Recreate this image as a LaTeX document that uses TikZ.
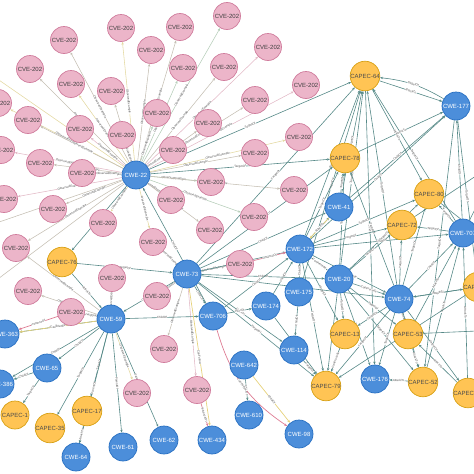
\documentclass[tikz,border=0pt]{standalone}
\usepackage{fontspec}
\setmainfont{Liberation Sans}
\usetikzlibrary{arrows.meta,backgrounds}
\definecolor{cvefill}{HTML}{ECB5C9}
\definecolor{cvedraw}{HTML}{D07D9D}
\definecolor{cwefill}{HTML}{4C8EDA}
\definecolor{cwedraw}{HTML}{2870C2}
\definecolor{capecfill}{HTML}{FFC454}
\definecolor{capecdraw}{HTML}{D7A013}
\definecolor{relcol}{HTML}{568987}
\definecolor{obscol}{HTML}{C4BEB2}
\definecolor{obsycol}{HTML}{E3D8A0}
\definecolor{obsgcol}{HTML}{B5CDB8}
\definecolor{obspcol}{HTML}{E2B9C6}
\definecolor{warmcol}{HTML}{E6D27C}
\definecolor{rosecol}{HTML}{DE7C94}
\definecolor{labelcol}{HTML}{505050}
\begin{document}
\begin{tikzpicture}[x=1pt,y=-1pt,>={Stealth[length=3pt,width=2.4pt]},
    cve/.style={circle,draw=cvedraw,fill=cvefill,line width=0.7pt,minimum size=27pt,inner sep=0pt,text=black!75,font=\fontsize{6}{6.5}\selectfont},
    cwe/.style={circle,draw=cwedraw,fill=cwefill,line width=0.7pt,minimum size=28pt,inner sep=0pt,text=white,font=\fontsize{6}{6.5}\selectfont},
    capec/.style={circle,draw=capecdraw,fill=capecfill,line width=0.7pt,minimum size=28pt,inner sep=0pt,text=black!70,font=\fontsize{6}{6.5}\selectfont},
    obs/.style={->,draw=obscol,line width=0.55pt},
    obsy/.style={->,draw=obsycol,line width=0.55pt},
    obsg/.style={->,draw=obsgcol,line width=0.55pt},
    obsp/.style={->,draw=obspcol,line width=0.55pt},
    rel/.style={->,draw=relcol,line width=0.6pt},
    warm/.style={->,draw=warmcol,line width=0.7pt},
    rose/.style={->,draw=rosecol,line width=0.7pt},
    elabel/.style={sloped,fill=white,inner sep=0.2pt,text=labelcol,font=\fontsize{3}{3.2}\selectfont}]
        \useasboundingbox (0,0) rectangle (474,474);

        \node[cve] (cve-1) at(64,40){CVE-202};
        \node[cve] (cve-2) at(121,28){CVE-202};
        \node[cve] (cve-3) at(180,27){CVE-202};
        \node[cve] (cve-4) at(227,16){CVE-202};
        \node[cve] (cve-5) at(151,50){CVE-202};
        \node[cve] (cve-6) at(268,47){CVE-202};
        \node[cve] (cve-7) at(30,69){CVE-202};
        \node[cve] (cve-8) at(71,84){CVE-202};
        \node[cve] (cve-9) at(111,91){CVE-202};
        \node[cve] (cve-10) at(183,68){CVE-202};
        \node[cve] (cve-11) at(224,67){CVE-202};
        \node[cve] (cve-12) at(306,85){CVE-202};
        \node[cve] (cve-13) at(255,100){CVE-202};
        \node[cve] (cve-14) at(-2,103){CVE-202};
        \node[cve] (cve-15) at(28,120){CVE-202};
        \node[cve] (cve-16) at(80,129){CVE-202};
        \node[cve] (cve-17) at(122,135){CVE-202};
        \node[cve] (cve-18) at(157,113){CVE-202};
        \node[cve] (cve-19) at(208,123){CVE-202};
        \node[cve] (cve-20) at(299,137){CVE-202};
        \node[cve] (cve-21) at(255,153){CVE-202};
        \node[cve] (cve-22) at(1,150){CVE-202};
        \node[cve] (cve-23) at(40,163){CVE-202};
        \node[cve] (cve-24) at(82,173){CVE-202};
        \node[cve] (cve-25) at(173,150){CVE-202};
        \node[cve] (cve-26) at(211,182){CVE-202};
        \node[cve] (cve-27) at(294,190){CVE-202};
        \node[cve] (cve-28) at(4,199){CVE-202};
        \node[cve] (cve-29) at(53,209){CVE-202};
        \node[cve] (cve-30) at(103,223){CVE-202};
        \node[cve] (cve-31) at(171,200){CVE-202};
        \node[cve] (cve-32) at(254,217){CVE-202};
        \node[cve] (cve-33) at(210,230){CVE-202};
        \node[cve] (cve-34) at(153,242){CVE-202};
        \node[cve] (cve-35) at(16,248){CVE-202};
        \node[cve] (cve-36) at(240,264){CVE-202};
        \node[cve] (cve-37) at(112,278){CVE-202};
        \node[cve] (cve-38) at(28,291){CVE-202};
        \node[cve] (cve-39) at(157,296){CVE-202};
        \node[cve] (cve-40) at(71,312){CVE-202};
        \node[cve] (cve-41) at(164,349){CVE-202};
        \node[cve] (cve-42) at(137,393){CVE-202};
        \node[cve] (cve-43) at(197,390){CVE-202};

        \node[cwe] (cwe-22) at(136,175){CWE-22};
        \node[cwe] (cwe-73) at(187,274){CWE-73};
        \node[cwe] (cwe-59) at(111,319){CWE-59};
        \node[cwe] (cwe-706) at(213,316){CWE-706};
        \node[cwe] (cwe-363) at(5,334){CWE-363};
        \node[cwe] (cwe-65) at(47,368){CWE-65};
        \node[cwe] (cwe-386) at(0,384){CWE-386};
        \node[cwe] (cwe-61) at(123,447){CWE-61};
        \node[cwe] (cwe-62) at(164,440){CWE-62};
        \node[cwe] (cwe-434) at(212,440){CWE-434};
        \node[cwe] (cwe-64) at(76,457){CWE-64};
        \node[cwe] (cwe-642) at(244,365){CWE-642};
        \node[cwe] (cwe-610) at(249,415){CWE-610};
        \node[cwe] (cwe-98) at(299,434){CWE-98};
        \node[cwe] (cwe-114) at(294,350){CWE-114};
        \node[cwe] (cwe-174) at(266,306){CWE-174};
        \node[cwe] (cwe-175) at(299,292){CWE-175};
        \node[cwe] (cwe-172) at(300,249){CWE-172};
        \node[cwe] (cwe-20) at(339,279){CWE-20};
        \node[cwe] (cwe-74) at(399,299){CWE-74};
        \node[cwe] (cwe-176) at(375,379){CWE-176};
        \node[cwe] (cwe-41) at(339,207){CWE-41};
        \node[cwe] (cwe-707) at(463,233){CWE-707};
        \node[cwe] (cwe-177) at(456,106){CWE-177};

        \node[capec] (capec-64) at(365,76){CAPEC-64};
        \node[capec] (capec-78) at(345,158){CAPEC-78};
        \node[capec] (capec-80) at(429,194){CAPEC-80};
        \node[capec] (capec-72) at(402,225){CAPEC-72};
        \node[capec] (capec-76) at(62,262){CAPEC-76};
        \node[capec] (capec-13) at(345,334){CAPEC-13};
        \node[capec] (capec-53) at(408,334){CAPEC-53};
        \node[capec] (capec-79) at(326,386){CAPEC-79};
        \node[capec] (capec-52) at(423,382){CAPEC-52};
        \node[capec] (capec-71) at(468,393){CAPEC-71};
        \node[capec] (capec-43) at(478,287){CAPEC-43};
        \node[capec] (capec-1) at(15,415){CAPEC-1};
        \node[capec] (capec-35) at(50,428){CAPEC-35};
        \node[capec] (capec-17) at(87,411){CAPEC-17};

        \coordinate (off-1) at(-30,232);
        \coordinate (off-2) at(-30,60);
        \coordinate (off-3) at(-30,300);
        \coordinate (off-4) at(500,160);
        \coordinate (off-5) at(500,330);
        \coordinate (off-6) at(500,250);

        \begin{scope}[on background layer]
        \draw [obs] (cwe-22) -- node[elabel]{ObservedExample} (cve-1);
        \draw [obsy] (cwe-22) -- node[elabel]{ObservedExample} (cve-2);
        \draw [obs] (cwe-22) -- node[elabel]{ObservedExample} (cve-3);
        \draw [obsg] (cwe-22) -- node[elabel]{ObservedExample} (cve-4);
        \draw [obs] (cwe-22) -- node[elabel]{ObservedExample} (cve-5);
        \draw [obsp] (cwe-22) -- node[elabel]{ObservedExample} (cve-6);
        \draw [obs] (cwe-22) -- node[elabel]{ObservedExample} (cve-7);
        \draw [obsy] (cwe-22) -- node[elabel]{ObservedExample} (cve-8);
        \draw [obs] (cwe-22) -- node[elabel]{ObservedExample} (cve-9);
        \draw [obsg] (cwe-22) -- node[elabel]{ObservedExample} (cve-10);
        \draw [obs] (cwe-22) -- node[elabel]{ObservedExample} (cve-11);
        \draw [obsp] (cwe-22) -- node[elabel]{ObservedExample} (cve-12);
        \draw [obs] (cwe-22) -- node[elabel]{ObservedExample} (cve-13);
        \draw [obsy] (cwe-22) -- node[elabel]{ObservedExample} (cve-14);
        \draw [obs] (cwe-22) -- node[elabel]{ObservedExample} (cve-15);
        \draw [obsp] (cwe-22) -- node[elabel]{ObservedExample} (cve-16);
        \draw [obs] (cwe-22) -- node[elabel]{ObservedExample} (cve-17);
        \draw [obsg] (cwe-22) -- node[elabel]{ObservedExample} (cve-18);
        \draw [obs] (cwe-22) -- node[elabel]{ObservedExample} (cve-19);
        \draw [obsy] (cwe-22) -- node[elabel]{ObservedExample} (cve-20);
        \draw [obs] (cwe-22) -- node[elabel]{ObservedExample} (cve-21);
        \draw [obsp] (cwe-22) -- node[elabel]{ObservedExample} (cve-22);
        \draw [obs] (cwe-22) -- node[elabel]{ObservedExample} (cve-23);
        \draw [obsy] (cwe-22) -- node[elabel]{ObservedExample} (cve-24);
        \draw [obs] (cwe-22) -- node[elabel]{ObservedExample} (cve-25);
        \draw [obsg] (cwe-22) -- node[elabel]{ObservedExample} (cve-26);
        \draw [obs] (cwe-22) -- node[elabel]{ObservedExample} (cve-27);
        \draw [obsp] (cwe-22) -- node[elabel]{ObservedExample} (cve-28);
        \draw [obs] (cwe-22) -- node[elabel]{ObservedExample} (cve-29);
        \draw [obsy] (cwe-22) -- node[elabel]{ObservedExample} (cve-30);
        \draw [obs] (cwe-22) -- node[elabel]{ObservedExample} (cve-31);
        \draw [obsg] (cwe-22) -- node[elabel]{ObservedExample} (cve-32);
        \draw [obs] (cwe-22) -- node[elabel]{ObservedExample} (cve-33);
        \draw [obsy] (cwe-22) -- node[elabel]{ObservedExample} (cve-34);
        \draw [obs] (cwe-22) -- node[elabel]{ObservedExample} (cve-35);
        \draw [obs] (cwe-22) -- (off-1);
        \draw [obsy] (cwe-22) -- (off-2);
        \draw [obs] (cwe-22) -- (off-3);

        \draw [obs] (cwe-73) -- node[elabel]{ObservedExample} (cve-36);
        \draw [obsp] (cwe-73) -- node[elabel]{ObservedExample} (cve-39);
        \draw [obs] (cwe-73) -- node[elabel]{ObservedExample} (cve-41);
        \draw [obsp] (cwe-73) -- node[elabel]{ObservedExample} (cve-43);
        \draw [obs] (cwe-73) -- node[elabel]{ObservedExample} (cve-34);
        \draw [obsp] (cwe-59) -- node[elabel]{ObservedExample} (cve-37);
        \draw [obs] (cwe-59) -- node[elabel]{ObservedExample} (cve-38);
        \draw [obs] (cwe-59) -- node[elabel]{ObservedExample} (cve-40);
        \draw [obsy] (cwe-59) -- node[elabel]{ObservedExample} (cve-42);
        \draw [obs] (cwe-59) -- node[elabel]{ObservedExample} (cve-35);

        \draw [rel] (cwe-177) to[bend right=12] node[elabel]{TargetOf} (capec-64);
        \draw [rel] (capec-64) -- node[elabel]{AttackTo} (cwe-177);
        \draw [rel] (cwe-22) -- node[elabel]{TargetOf} (capec-64);
        \draw [rel] (cwe-22) -- node[elabel]{TargetOf} (capec-78);
        \draw [rel] (cwe-41) -- node[elabel]{TargetOf} (capec-64);
        \draw [rel] (cwe-172) -- node[elabel]{TargetOf} (capec-64);
        \draw [rel] (cwe-20) -- node[elabel]{TargetOf} (capec-64);
        \draw [rel] (cwe-74) -- node[elabel]{TargetOf} (capec-64);
        \draw [rel] (cwe-707) -- node[elabel]{TargetOf} (capec-64);
        \draw [rel] (cwe-73) -- node[elabel]{TargetOf} (capec-64);
        \draw [rel] (cwe-175) -- node[elabel]{TargetOf} (capec-64);
        \draw [rel] (capec-64) -- node[elabel]{AttackTo} (cwe-176);
        \draw [rel] (capec-64) -- node[elabel]{AttackTo} (capec-80);
        \draw [rel] (cwe-172) -- node[elabel]{TargetOf} (capec-78);
        \draw [rel] (cwe-41) -- node[elabel]{TargetOf} (capec-78);
        \draw [rel] (cwe-20) -- node[elabel]{TargetOf} (capec-78);
        \draw [rel] (cwe-73) -- node[elabel]{TargetOf} (capec-78);
        \draw [rel] (cwe-74) -- node[elabel]{TargetOf} (capec-78);
        \draw [rel] (capec-78) -- node[elabel]{AttackTo} (cwe-177);
        \draw [rel] (cwe-41) -- node[elabel]{ChildOf} (cwe-177);
        \draw [rel] (cwe-172) -- node[elabel]{ChildOf} (cwe-177);
        \draw [rel] (cwe-707) -- node[elabel]{ChildOf} (cwe-177);
        \draw [rel] (cwe-177) -- node[elabel]{TargetOf} (capec-43);
        \draw [rel] (cwe-177) -- node[elabel]{TargetOf} (capec-52);
        \draw [rel] (cwe-172) -- node[elabel]{TargetOf} (capec-80);
        \draw [rel] (cwe-74) -- node[elabel]{TargetOf} (capec-80);
        \draw [rel] (cwe-20) -- node[elabel]{TargetOf} (capec-80);
        \draw [rel] (cwe-707) -- node[elabel]{TargetOf} (capec-80);
        \draw [rel] (cwe-172) -- node[elabel]{TargetOf} (capec-72);
        \draw [rel] (cwe-74) -- node[elabel]{TargetOf} (capec-72);
        \draw [rel] (cwe-20) -- node[elabel]{TargetOf} (capec-72);
        \draw [rel] (cwe-707) -- node[elabel]{TargetOf} (capec-72);
        \draw [rel] (cwe-172) -- node[elabel]{ChildOf} (cwe-707);
        \draw [rel] (cwe-74) -- node[elabel]{ChildOf} (cwe-707);
        \draw [rel] (capec-52) -- node[elabel]{AttackTo} (cwe-707);
        \draw [rel] (capec-53) -- node[elabel]{AttackTo} (cwe-707);
        \draw [rel] (capec-71) -- node[elabel]{AttackTo} (cwe-707);
        \draw [rel] (cwe-172) -- node[elabel]{CanPrecede} (cwe-20);
        \draw [rel] (cwe-172) -- node[elabel]{CanPrecede} (cwe-74);
        \draw [rel] (cwe-73) -- node[elabel]{CanFollow} (cwe-172);
        \draw [rel] (cwe-175) -- node[elabel]{ChildOf} (cwe-172);
        \draw [rel] (cwe-174) -- node[elabel]{ChildOf} (cwe-172);
        \draw [rel] (cwe-172) -- node[elabel]{TargetOf} (capec-79);
        \draw [rel] (cwe-172) -- node[elabel]{TargetOf} (capec-13);
        \draw [rel] (cwe-172) -- node[elabel]{PeerOf} (cwe-41);
        \draw [rel] (cwe-20) -- node[elabel]{CanPrecede} (cwe-74);
        \draw [rel] (cwe-20) -- node[elabel]{TargetOf} (capec-13);
        \draw [rel] (cwe-20) -- node[elabel]{TargetOf} (capec-79);
        \draw [rel] (cwe-20) -- node[elabel]{TargetOf} (cwe-176);
        \draw [rel] (cwe-20) -- node[elabel]{TargetOf} (capec-52);
        \draw [rel] (cwe-20) -- node[elabel]{TargetOf} (capec-53);
        \draw [rel] (cwe-74) -- node[elabel]{TargetOf} (capec-13);
        \draw [rel] (cwe-74) -- node[elabel]{TargetOf} (capec-53);
        \draw [rel] (cwe-74) -- node[elabel]{TargetOf} (capec-52);
        \draw [rel] (cwe-74) -- node[elabel]{TargetOf} (capec-79);
        \draw [rel] (cwe-74) -- node[elabel]{TargetOf} (cwe-176);
        \draw [rel] (cwe-74) -- node[elabel]{TargetOf} (capec-71);
        \draw [rel] (cwe-74) -- node[elabel]{TargetOf} (capec-43);
        \draw [rel] (capec-52) -- node[elabel]{AttackTo} (cwe-176);
        \draw [rel] (capec-53) -- node[elabel]{AttackTo} (capec-52);
        \draw [rel] (cwe-114) -- node[elabel]{TargetOf} (capec-79);
        \draw [rel] (cwe-175) -- node[elabel]{ChildOf} (cwe-114);
        \draw [rel] (cwe-174) -- node[elabel]{TargetOf} (capec-79);
        \draw [rel] (cwe-73) -- node[elabel]{TargetOf} (capec-79);
        \draw [rel] (cwe-73) -- node[elabel]{ChildOf} (cwe-114);
        \draw [rel] (cwe-73) -- node[elabel]{ChildOf} (cwe-20);
        \draw [rel] (cwe-73) -- node[elabel]{ChildOf} (cwe-41);
        \draw [rel] (cwe-73) -- node[elabel]{ChildOf} (cwe-74);
        \draw [rel] (cwe-73) -- node[elabel]{ChildOf} (cwe-706);
        \draw [rel] (cwe-73) -- node[elabel]{CanPrecede} (cwe-59);
        \draw [rel] (capec-76) -- node[elabel]{TargetOf} (cwe-73);
        \draw [rel] (capec-76) -- node[elabel]{AttackTo} (cwe-59);
        \draw [rel] (cwe-22) -- node[elabel]{TargetOf} (capec-76);
        \draw [rel] (cwe-59) -- node[elabel]{ChildOf} (cwe-706);
        \draw [rel] (cwe-59) -- node[elabel]{CanPrecede} (cwe-363);
        \draw [rel] (cwe-59) -- node[elabel]{ChildOf} (cwe-386);
        \draw [rel] (cwe-59) -- node[elabel]{ChildOf} (cwe-65);
        \draw [rel] (cwe-59) -- node[elabel]{TargetOf} (capec-17);
        \draw [rel] (cwe-59) -- node[elabel]{TargetOf} (capec-35);
        \draw [rel] (cwe-59) -- node[elabel]{ParentOf} (cwe-64);
        \draw [rel] (cwe-59) -- node[elabel]{ParentOf} (cwe-61);
        \draw [rel] (cwe-59) -- node[elabel]{ParentOf} (cwe-62);
        \draw [rel] (cwe-65) -- node[elabel]{TargetOf} (capec-1);
        \draw [rel] (cwe-65) -- node[elabel]{ChildOf} (cwe-386);
        \draw [rel] (capec-17) -- node[elabel]{AttackTo} (cwe-64);
        \draw [rel] (cwe-706) -- node[elabel]{ChildOf} (cwe-22);
        \draw [rel] (cwe-706) -- node[elabel]{ChildOf} (cwe-172);
        \draw [rel] (cwe-706) -- node[elabel]{PeerOf} (cwe-174);
        \draw [rel] (cwe-642) -- node[elabel]{ChildOf} (cwe-610);
        \draw [rel] (capec-13) -- node[elabel]{CanPrecede} (capec-79);
        \draw [rel] (capec-71) -- node[elabel]{AttackTo} (capec-53);
        \draw [rel] (capec-43) -- node[elabel]{AttackTo} (cwe-74);
        \draw [rel] (capec-43) -- node[elabel]{AttackTo} (capec-79);
        \draw [rel] (cwe-707) -- (off-4);
        \draw [rel] (capec-80) -- (off-6);
        \draw [rel] (capec-53) -- (off-5);
        \draw [rel] (capec-72) -- (off-4);

        \draw [warm] (cwe-41) -- node[elabel]{AttackTo} (cwe-172);
        \draw [warm] (cwe-642) -- node[elabel]{ChildOf} (cwe-98);
        \draw [warm] (cwe-73) -- node[elabel]{CanFollow} (cwe-434);
        \draw [warm] (cwe-59) -- node[elabel]{CanAlsoBe} (cwe-363);
        \draw [rose] (cve-43) -- node[elabel]{InstanceOf} (cwe-434);
        \draw [rose] (cve-36) -- node[elabel]{InstanceOf} (cwe-172);
        \draw [rose] (cve-40) -- node[elabel]{InstanceOf} (cwe-363);
        \draw [rose] (cwe-706) to[bend right=20] node[elabel]{CanFollow} (cwe-98);
        \end{scope}

      \end{tikzpicture}
\end{document}
